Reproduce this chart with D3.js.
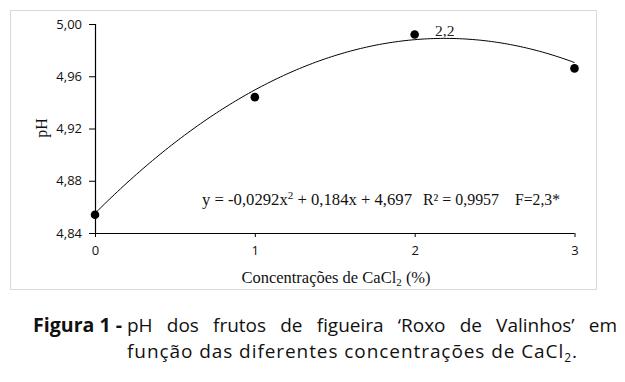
<!DOCTYPE html>
<html><head><meta charset="utf-8">
<script src="https://cdn.jsdelivr.net/npm/d3@7"></script>
<style>body{margin:0;background:#fff}svg{display:block}</style>
</head><body>
<svg id="c" width="625" height="382"></svg>
<script>
// ---- data ----
const concentrations = [0, 1, 2, 3];
const phValues = [4.854, 4.944, 4.992, 4.966];
const xTicks = [0, 1, 2, 3];
const xTickLabels = ["0", "1", "2", "3"];
const yTicks = [4.84, 4.88, 4.92, 4.96, 5.00];
const yTickLabels = ["4,84", "4,88", "4,92", "4,96", "5,00"];
// fitted quadratic trend: c0 + c1 x + c2 x^2
const trendCoef = [4.855, 0.1225, -0.028];
const peakLabel = "2,2";
const equationParts = ["y = -0,0292x", "2", " + 0,184x + 4,697", "R² = 0,9957", "F=2,3*"];
const yTitle = "pH";
const captionBold = "Figura 1 -";
const captionLine1 = ["pH","dos","frutos","de","figueira","‘Roxo","de","Valinhos’","em"];

const svg = d3.select("#c");
const x = d3.scaleLinear().domain([0, 3]).range([95, 574.5]);
const y = d3.scaleLinear().domain([4.84, 5.00]).range([233, 24]);

// frame
svg.append("rect").attr("x", 10.5).attr("y", 10.5).attr("width", 586).attr("height", 279)
  .attr("fill", "none").attr("stroke", "#d9d9d9").attr("stroke-width", 1);

const tickFont = "'Open Sans', sans-serif";
const serif = "'Liberation Serif', 'Times New Roman', serif";

// axes
const yAxis = d3.axisLeft(y).tickValues(yTicks).tickSize(6).tickPadding(7)
  .tickFormat((d, i) => yTickLabels[i]);
const gy = svg.append("g").attr("transform", "translate(95,0)").call(yAxis);
const xAxis = d3.axisBottom(x).tickValues(xTicks).tickSize(4).tickPadding(9)
  .tickFormat((d, i) => xTickLabels[i]);
const gx = svg.append("g").attr("transform", "translate(0,233)").call(xAxis);
[gx, gy].forEach(g => {
  g.select(".domain").attr("stroke", "#000").attr("stroke-width", 1.2);
  g.selectAll(".tick line").attr("stroke", "#000");
  g.selectAll(".tick text").attr("fill", "#111").style("font-family", tickFont).style("font-size", "13px");
});
gy.select(".domain").attr("d", "M0.5,24V233");
gx.select(".domain").attr("d", "M95,0.5H574.5");

// trend curve
const xs = d3.range(0, 3.0001, 0.02);
const line = d3.line().x(d => x(d)).y(d => y(trendCoef[0] + trendCoef[1] * d + trendCoef[2] * d * d));
svg.append("path").datum(xs).attr("d", line).attr("fill", "none").attr("stroke", "#000").attr("stroke-width", 1);

// points
svg.selectAll("circle.pt").data(concentrations).enter().append("circle")
  .attr("class", "pt").attr("cx", d => x(d)).attr("cy", (d, i) => y(phValues[i])).attr("r", 4.3).attr("fill", "#000");

// peak label
svg.append("text").attr("x", 435).attr("y", 36).style("font-family", serif).style("font-size", "15.5px")
  .attr("fill", "#222").text(peakLabel);

// equation
const eqStyle = t => t.style("font-family", serif).style("font-size", "16.5px").attr("fill", "#111");
const eq = eqStyle(svg.append("text").attr("x", 202).attr("y", 205).attr("textLength", 210).attr("lengthAdjust", "spacingAndGlyphs"));
eq.append("tspan").text(equationParts[0]);
eq.append("tspan").attr("dy", -6).style("font-size", "11px").text(equationParts[1]);
eq.append("tspan").attr("dy", 6).text(equationParts[2]);
eqStyle(svg.append("text").attr("y", 205).attr("x", 423).attr("textLength", 76).attr("lengthAdjust", "spacingAndGlyphs")).text(equationParts[3]);
eqStyle(svg.append("text").attr("y", 205).attr("x", 515).attr("textLength", 45).attr("lengthAdjust", "spacingAndGlyphs")).text(equationParts[4]);

// y title
svg.append("text").attr("transform", "translate(47,128) rotate(-90)").attr("text-anchor", "middle")
  .style("font-family", serif).style("font-size", "16px").attr("fill", "#111").text(yTitle);

// x title
const xt = svg.append("text").attr("x", 336).attr("y", 283).attr("text-anchor", "middle")
  .style("font-family", serif).style("font-size", "16.5px").attr("fill", "#111");
xt.append("tspan").text("Concentrações de CaCl");
xt.append("tspan").attr("dy", 3).style("font-size", "11px").text("2");
xt.append("tspan").attr("dy", -3).text(" (%)");

// caption
const capFont = "'Open Sans', sans-serif";
const capSize = 19;
const y1 = 332, y2 = 358;
svg.append("text").attr("x", 33).attr("y", y1).style("font-family", capFont).style("font-size", "19px")
  .style("font-weight", "bold").attr("fill", "#111").attr("textLength", 89).attr("lengthAdjust", "spacingAndGlyphs").text(captionBold);
// justified line 1
const words = captionLine1.map(w => svg.append("text").attr("y", y1).style("font-family", capFont)
  .style("font-size", capSize + "px").attr("fill", "#111").text(w));
const widths = words.map(t => t.node().getComputedTextLength());
const left = 127, right = 617;
const gap = (right - left - d3.sum(widths)) / (words.length - 1);
let cx = left;
words.forEach((t, i) => { t.attr("x", cx); cx += widths[i] + gap; });
// line 2
const l2 = svg.append("text").attr("x", 127).attr("y", y2).style("font-family", capFont)
  .style("font-size", capSize + "px").attr("fill", "#111").attr("textLength", 450).attr("lengthAdjust", "spacing");
l2.append("tspan").text("função das diferentes concentrações de CaCl");
l2.append("tspan").attr("dy", 4).style("font-size", "12px").text("2");
l2.append("tspan").attr("dy", -4).text(".");
</script>
</body></html>
